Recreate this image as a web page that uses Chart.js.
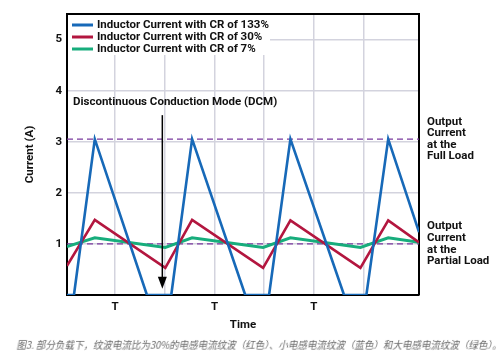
<!DOCTYPE html>
<html>
<head>
<meta charset="utf-8">
<script src="https://cdn.jsdelivr.net/npm/chart.js@4.4.1/dist/chart.umd.min.js"></script>
<style>
  html, body { margin: 0; padding: 0; background: #fff; }
  #wrap { position: relative; width: 500px; height: 360px; }
  #caption {
    position: absolute; left: 16px; top: 339px;
    font: 9.5px "Noto Sans CJK SC", sans-serif; line-height: 12px;
    color: #666; white-space: nowrap;
    transform: skewX(-12deg); transform-origin: left bottom;
  }
</style>
</head>
<body>
<div id="wrap">
  <canvas id="chart" width="500" height="360"></canvas>
  <div id="caption">图3. 部分负载下，纹波电流比为30%的电感电流纹波（红色）、小电感电流纹波（蓝色）和大电感电流纹波（绿色）。</div>
</div>
<script>
// time is in grid units (T = 2 units), current in A
const blueTime = [0.03, 0.17, 0.59, 1.64, 2.13, 2.55, 3.62, 4.10, 4.53, 5.61, 6.06, 6.50, 7.12];
const blueCurrent = [0, 0, 3.05, 0, 0, 3.05, 0, 0, 3.05, 0, 0, 3.05, 1.23];
const rippleTime = [0.03, 0.59, 2.01, 2.55, 3.98, 4.53, 5.94, 6.50, 7.12];
const redCurrent = [0.57, 1.47, 0.53, 1.47, 0.53, 1.46, 0.53, 1.46, 1.03];
const greenCurrent = [0.95, 1.12, 0.93, 1.12, 0.93, 1.12, 0.93, 1.12, 1.03];
const loadTime = [0.03, 7.12];
const fullLoad = 3.05;
const partialLoad = 1.0;
const yTicks = [1, 2, 3, 4, 5];
const xTicks = [1, 2, 3, 4, 5, 6];
const xTickLabels = ['T', '', 'T', '', 'T', ''];
const seriesLabels = ['Inductor Current with CR of 133%', 'Inductor Current with CR of 30%', 'Inductor Current with CR of 7%'];

const FONT = 'Roboto';
const textColor = '#111';
const gridColor = '#d3d3de';
const dashColor = '#7a3a9e';

function pts(xs, ys) {
  return xs.map((x, i) => ({ x: x, y: ys[i] }));
}

const annotations = {
  id: 'annotations',
  beforeDatasetsDraw(chart) {
    const { ctx, chartArea: a } = chart;
    ctx.save();
    // top and right frame
    ctx.strokeStyle = '#000';
    ctx.lineWidth = 2;
    ctx.beginPath();
    ctx.moveTo(a.left, a.top);
    ctx.lineTo(a.right, a.top);
    ctx.lineTo(a.right, a.bottom);
    ctx.stroke();
    // legend with white background
    ctx.fillStyle = '#fff';
    ctx.fillRect(a.left + 1, a.top + 1, 202, 40);
    ctx.font = 'bold 11.5px ' + FONT;
    ctx.textBaseline = 'middle';
    chart.data.datasets.slice(0, 3).forEach((ds, i) => {
      const y = a.top + 11 + i * 12;
      ctx.strokeStyle = ds.borderColor;
      ctx.lineWidth = 3;
      ctx.beginPath();
      ctx.moveTo(a.left + 5, y);
      ctx.lineTo(a.left + 26, y);
      ctx.stroke();
      ctx.fillStyle = textColor;
      ctx.fillText(ds.label, a.left + 30, y);
    });
    ctx.restore();
  },
  afterDatasetsDraw(chart) {
    const { ctx, chartArea: a, scales } = chart;
    const xs = scales.x, ys = scales.y;
    ctx.save();
    ctx.font = 'bold 11.5px ' + FONT;
    ctx.fillStyle = textColor;
    ctx.textBaseline = 'middle';
    ctx.fillText('Discontinuous Conduction Mode (DCM)', a.left + 6, ys.getPixelForValue(3.78));

    // arrow down to the DCM interval
    const ax = xs.getPixelForValue(1.95);
    const y0 = ys.getPixelForValue(3.52);
    const y1 = ys.getPixelForValue(0.12);
    ctx.strokeStyle = '#000';
    ctx.lineWidth = 1.5;
    ctx.beginPath();
    ctx.moveTo(ax, y0);
    ctx.lineTo(ax, y1 - 10);
    ctx.stroke();
    ctx.fillStyle = '#000';
    ctx.beginPath();
    ctx.moveTo(ax - 4.5, y1 - 12);
    ctx.lineTo(ax + 4.5, y1 - 12);
    ctx.lineTo(ax, y1);
    ctx.closePath();
    ctx.fill();

    // load labels on the right
    ctx.fillStyle = textColor;
    ctx.textBaseline = 'middle';
    const blocks = [
      { v: fullLoad, lines: ['Output', 'Current', 'at the', 'Full Load'] },
      { v: partialLoad, lines: ['Output', 'Current', 'at the', 'Partial Load'] }
    ];
    blocks.forEach(b => {
      const cy = ys.getPixelForValue(b.v);
      b.lines.forEach((t, i) => {
        ctx.fillText(t, a.right + 8, cy + (i - 1.5) * 11.6);
      });
    });
    ctx.restore();
  }
};

new Chart(document.getElementById('chart'), {
  type: 'line',
  data: {
    datasets: [
      { label: seriesLabels[0], data: pts(blueTime, blueCurrent), borderColor: '#1769b8', borderWidth: 2.6 },
      { label: seriesLabels[1], data: pts(rippleTime, redCurrent), borderColor: '#b3163f', borderWidth: 2.6 },
      { label: seriesLabels[2], data: pts(rippleTime, greenCurrent), borderColor: '#17ad7c', borderWidth: 3 },
      { label: 'Full Load', data: pts(loadTime, [fullLoad, fullLoad]), borderColor: dashColor, borderWidth: 1.4, borderDash: [6, 4] },
      { label: 'Partial Load', data: pts(loadTime, [partialLoad, partialLoad]), borderColor: dashColor, borderWidth: 1.4, borderDash: [6, 4] }
    ]
  },
  options: {
    responsive: false,
    animation: false,
    layout: { padding: { left: 0, right: 81, top: 14, bottom: 0 } },
    elements: { point: { radius: 0 }, line: { tension: 0, fill: false } },
    plugins: { legend: { display: false }, tooltip: { enabled: false } },
    scales: {
      x: {
        type: 'linear',
        min: 0.03,
        max: 7.12,
        afterBuildTicks: s => { s.ticks = xTicks.map(v => ({ value: v })); },
        afterFit: s => { s.height = 65; },
        grid: { color: gridColor, lineWidth: 1.5, drawTicks: false },
        border: { color: '#000', width: 2 },
        ticks: {
          padding: 5, color: textColor, autoSkip: false, maxRotation: 0,
          font: { family: FONT, size: 11.5, weight: 'bold' },
          callback: (v, i) => xTickLabels[i]
        },
        title: {
          display: true, text: 'Time', color: textColor,
          font: { family: FONT, size: 11.5, weight: 'bold' },
          padding: { top: 0, bottom: 28 }
        }
      },
      y: {
        min: 0,
        max: 5.5,
        afterBuildTicks: s => { s.ticks = yTicks.map(v => ({ value: v })); },
        afterFit: s => { s.width = 67; },
        grid: { color: gridColor, lineWidth: 1.5, drawTicks: false },
        border: { color: '#000', width: 2 },
        ticks: {
          padding: 5, color: textColor,
          font: { family: FONT, size: 11.5, weight: 'bold' }
        },
        title: {
          display: true, text: 'Current (A)', color: textColor,
          font: { family: FONT, size: 11.5, weight: 'bold' },
          padding: { top: 23, bottom: 0 }
        }
      }
    }
  },
  plugins: [annotations]
});
</script>
</body>
</html>
